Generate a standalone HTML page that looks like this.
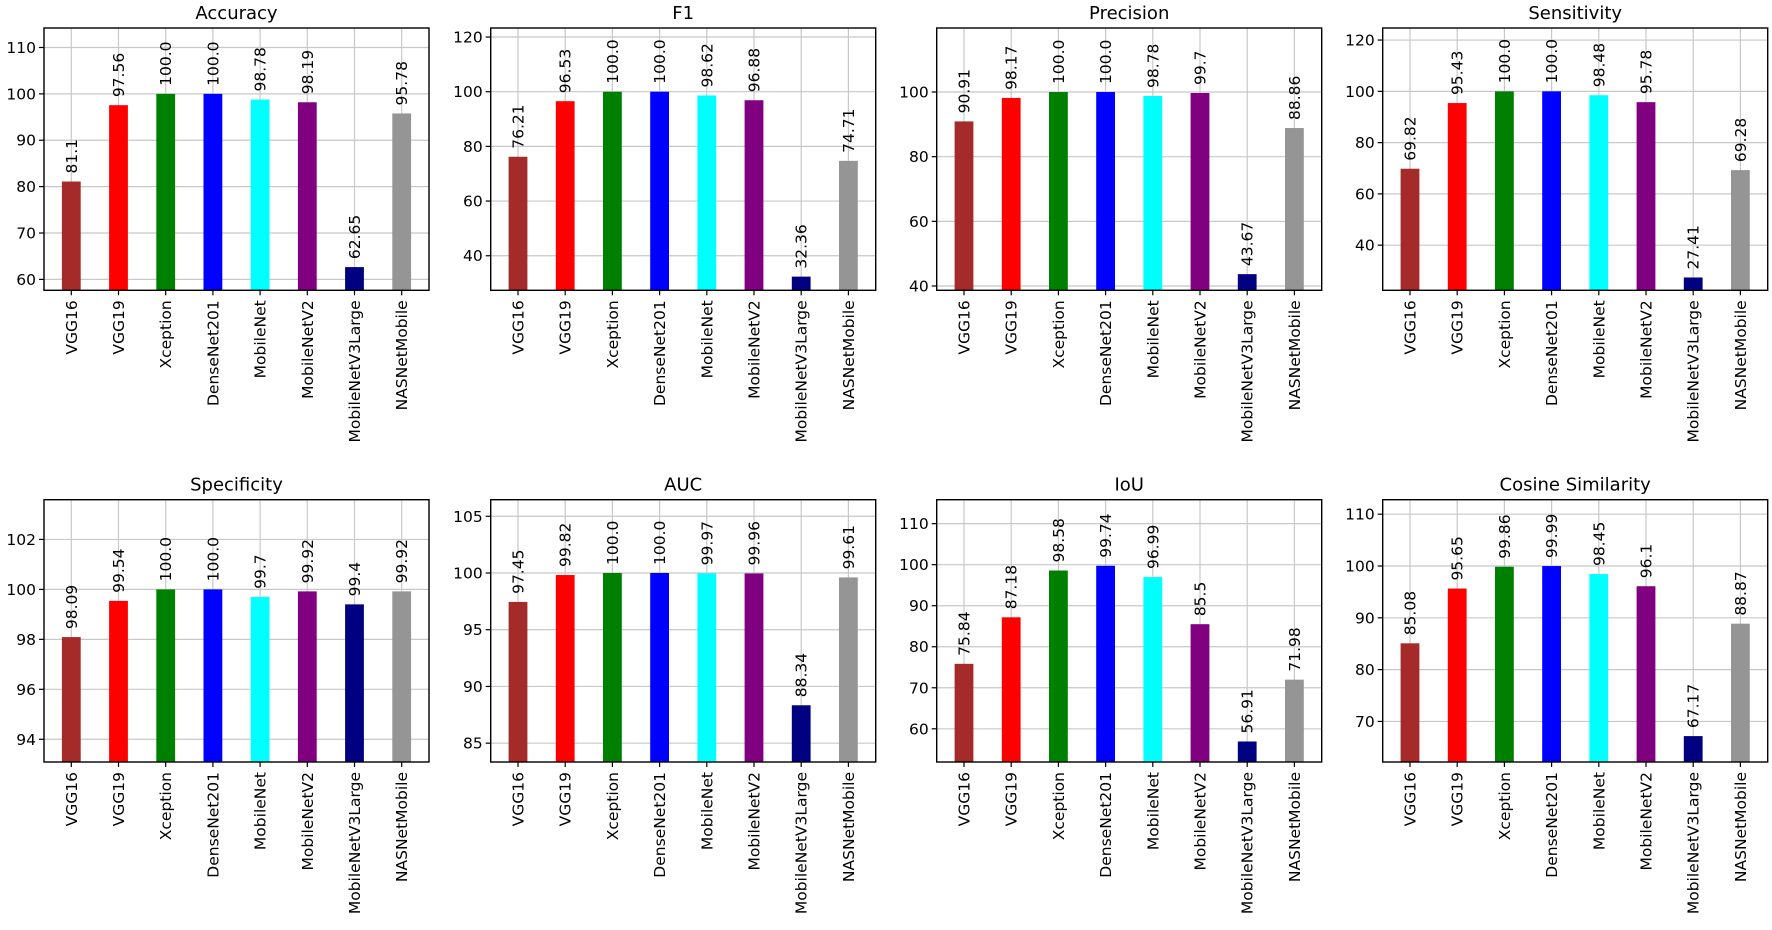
<!DOCTYPE html>
<html><head><meta charset="utf-8"><style>
html,body{margin:0;padding:0;background:#fff;}
svg{display:block;font-family:"DejaVu Sans","Liberation Sans",sans-serif;}
</style></head><body>
<svg id="chart" width="1772" height="930" viewBox="0 0 1772 930" xmlns="http://www.w3.org/2000/svg"></svg>
<script>
const categories = ["VGG16","VGG19","Xception","DenseNet201","MobileNet","MobileNetV2","MobileNetV3Large","NASNetMobile"];
const barColors = ["#a52a2a","#ff0000","#008000","#0000ff","#00ffff","#800080","#000080","#959595"];
const metricTitles = ["Accuracy","F1","Precision","Sensitivity","Specificity","AUC","IoU","Cosine Similarity"];
const accuracy = [81.1,97.56,100.0,100.0,98.78,98.19,62.65,95.78];
const f1 = [76.21,96.53,100.0,100.0,98.62,96.88,32.36,74.71];
const precision = [90.91,98.17,100.0,100.0,98.78,99.7,43.67,88.86];
const sensitivity = [69.82,95.43,100.0,100.0,98.48,95.78,27.41,69.28];
const specificity = [98.09,99.54,100.0,100.0,99.7,99.92,99.4,99.92];
const auc = [97.45,99.82,100.0,100.0,99.97,99.96,88.34,99.61];
const iou = [75.84,87.18,98.58,99.74,96.99,85.5,56.91,71.98];
const cosine = [85.08,95.65,99.86,99.99,98.45,96.1,67.17,88.87];
const tickSteps = [10,20,20,20,2,5,10,10];
const axisTops = [114.2,123.3,119.8,124.7,103.59,106.46,115.84,112.8];

const seriesList = [accuracy,f1,precision,sensitivity,specificity,auc,iou,cosine];
const svg = document.getElementById('chart');
const NS = 'http://www.w3.org/2000/svg';
function mk(tag, attrs, parent){const e=document.createElementNS(NS,tag);for(const k in attrs)e.setAttribute(k,attrs[k]);(parent||svg).appendChild(e);return e;}
const colLeft=[44,490.7,936.7,1382.7], rowTop=[28,499.7], W=385, H=262.3;
function fmt(v){const r=Math.round(v*100)/100;return Number.isInteger(r)?r.toFixed(1):String(r);}

seriesList.forEach((vals,p)=>{
  const L=colLeft[p%4], T=rowTop[Math.floor(p/4)], B=T+H, R=L+W;
  const ymin=Math.min(...vals)-5, ymax=axisTops[p];
  const y=v=>B-(v-ymin)/(ymax-ymin)*H;
  const pad=27.3, sp=(W-2*pad)/(categories.length-1);
  const x=i=>L+pad+i*sp;
  const g=mk('g',{});
  
  
  const title=mk('text',{x:(L+R)/2,y:T-9,'text-anchor':'middle','font-size':18,fill:'#000'},g);
  title.textContent=metricTitles[p];
  
  
  const step=tickSteps[p];
  for(let t=Math.ceil(ymin/step)*step;t<=ymax+1e-9;t+=step){
    const yy=y(t);
    const gl=mk('line',{x1:L,x2:R,y1:yy,y2:yy,stroke:'#c8c8c8','stroke-width':1.2},g);
    
    
    mk('line',{x1:L-5,x2:L,y1:yy,y2:yy,stroke:'#000','stroke-width':1.2},g);
    const tl=mk('text',{x:L-8,y:yy+5.5,'text-anchor':'end','font-size':15.5,fill:'#000'},g);
    tl.textContent=String(t);
    
    
  }
  categories.forEach((c,i)=>{
    const xx=x(i);
    mk('line',{x1:xx,x2:xx,y1:T,y2:B,stroke:'#c8c8c8','stroke-width':1.2},g);
  });
  categories.forEach((c,i)=>{
    const xx=x(i), v=vals[i], bw=18.8;
    const bar=mk('rect',{x:xx-bw/2,y:y(v),width:bw,height:B-y(v),fill:barColors[i]},g);
    
    
    const vl=mk('text',{x:0,y:0,'font-size':15.5,fill:'#000',transform:`translate(${xx+5.5},${y(v)-8}) rotate(-90)`},g);
    vl.textContent=fmt(v);
    
    
    mk('line',{x1:xx,x2:xx,y1:B,y2:B+5,stroke:'#000','stroke-width':1.2},g);
    const xl=mk('text',{x:0,y:0,'font-size':15.5,fill:'#000','text-anchor':'end',transform:`translate(${xx+5.5},${B+10}) rotate(-90)`},g);
    xl.textContent=c;
    
    
  });
  const fr=mk('rect',{x:L,y:T,width:W,height:H,fill:'none',stroke:'#000','stroke-width':1.4},g);
  
  
});
</script>
</body></html>
